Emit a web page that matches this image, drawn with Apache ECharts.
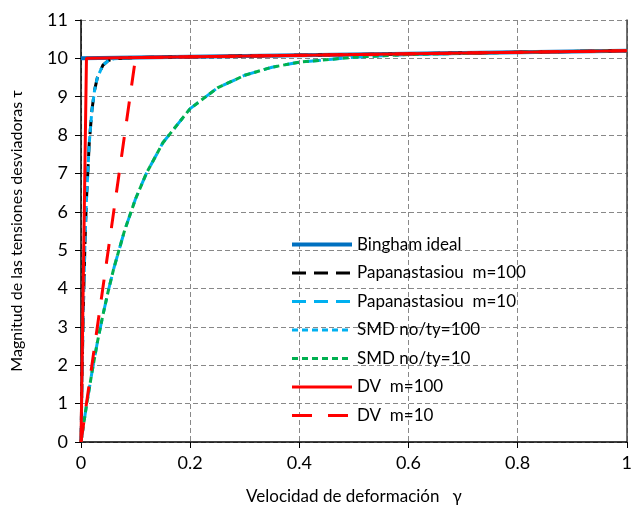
<!DOCTYPE html>
<html>
<head>
<meta charset="utf-8">
<script src="https://cdn.jsdelivr.net/npm/echarts@6/dist/echarts.min.js"></script>
<style>html,body{margin:0;padding:0;background:#fff}#c{width:635px;height:516px}</style>
</head>
<body>
<div id="c"></div>
<script>
// Data: [gamma, tau]
var seriesNames = ['Bingham ideal','Papanastasiou  m=100','Papanastasiou  m=10','SMD no/ty=100','SMD no/ty=10','DV  m=100','DV  m=10'];
var xTicks = [0, 0.2, 0.4, 0.6, 0.8, 1];
var yTicks = [0,1,2,3,4,5,6,7,8,9,10,11];

var bingham = [[0,10],[1,10.2]];
var papa100 = [[0,0],[0.002,1.81],[0.004,3.30],[0.006,4.51],[0.008,5.51],[0.01,6.32],[0.015,7.77],[0.02,8.65],[0.025,9.18],[0.03,9.50],[0.04,9.82],[0.05,9.94],[0.06,9.99],[0.08,10.01],[0.1,10.02],[0.2,10.04],[0.4,10.08],[0.6,10.12],[0.8,10.16],[1,10.2]];
var papa10 = [[0,0],[0.01,0.95],[0.02,1.81],[0.03,2.60],[0.04,3.30],[0.05,3.94],[0.06,4.52],[0.08,5.52],[0.1,6.34],[0.12,7.01],[0.15,7.80],[0.2,8.69],[0.25,9.23],[0.3,9.56],[0.35,9.77],[0.4,9.90],[0.5,10.03],[0.6,10.10],[0.7,10.13],[0.8,10.16],[0.9,10.18],[1,10.2]];
var smd100 = [[0,0],[0.002,1.81],[0.004,3.30],[0.006,4.51],[0.008,5.51],[0.01,6.32],[0.015,7.77],[0.02,8.65],[0.025,9.18],[0.03,9.50],[0.04,9.82],[0.05,9.94],[0.06,9.99],[0.08,10.01],[0.1,10.02],[0.2,10.04],[0.4,10.08],[0.6,10.12],[0.8,10.16],[1,10.2]];
var smd10 = [[0,0],[0.01,0.95],[0.02,1.81],[0.03,2.60],[0.04,3.30],[0.05,3.94],[0.06,4.52],[0.08,5.52],[0.1,6.34],[0.12,7.01],[0.15,7.80],[0.2,8.69],[0.25,9.23],[0.3,9.56],[0.35,9.77],[0.4,9.90],[0.5,10.03],[0.6,10.10],[0.7,10.13],[0.8,10.16],[0.9,10.18],[1,10.2]];
var dv100 = [[0,0],[0.01,10.0],[1,10.2]];
var dv10 = [[0,0],[0.1,10.02],[1,10.2]];

var FONT = 'Lato';
function mk(name, data, color, width, dash, z) {
  return {
    name: name, type: 'line', data: data, showSymbol: false, symbol: 'none',
    lineStyle: {color: color, width: width, type: dash, cap: 'butt'},
    itemStyle: {color: color}, z: z, silent: true, animation: false
  };
}
var chart = echarts.init(document.getElementById('c'), null, {renderer: 'canvas'});
chart.setOption({
  animation: false,
  textStyle: {fontFamily: FONT},
  grid: {left: 81, right: 4, top: 20, bottom: 74},
  legend: {
    orient: 'vertical', left: 285, top: 231,
    itemWidth: 60, itemHeight: 14, itemGap: 11.5,
    itemStyle: {opacity: 0},
    lineStyle: {width: 'inherit'},
    textStyle: {fontFamily: FONT, fontSize: 17, color: '#000'},
    data: seriesNames
  },
  xAxis: {
    type: 'value', min: 0, max: 1, interval: 0.2,
    name: 'Velocidad de deformación   γ', nameLocation: 'middle', nameGap: 46,
    nameTextStyle: {fontFamily: FONT, fontSize: 17, color: '#000'},
    axisLine: {show: true, lineStyle: {color: '#000', width: 1.5}},
    axisTick: {show: true, inside: false, length: 6, lineStyle: {color: '#000'}},
    axisLabel: {fontFamily: FONT, fontSize: 18, color: '#000', margin: 12,
      formatter: function(v){ return String(+v.toFixed(1)); }},
    splitLine: {show: true, lineStyle: {color: '#888', type: [5,3], width: 1}}
  },
  yAxis: [{
    type: 'value', min: 0, max: 11, interval: 1,
    name: 'Magnitud de las tensiones desviadoras τ', nameLocation: 'middle', nameGap: 56,
    nameTextStyle: {fontFamily: FONT, fontSize: 16, color: '#000'},
    axisLine: {show: true, lineStyle: {color: '#000', width: 1.5}},
    axisTick: {show: true, inside: false, length: 6, lineStyle: {color: '#000'}},
    axisLabel: {fontFamily: FONT, fontSize: 18, color: '#000', margin: 13},
    splitLine: {show: true, lineStyle: {color: '#888', type: [5,3], width: 1}}
  }, {
    type: 'value', min: 0, max: 11, interval: 1, position: 'right',
    axisLine: {show: true, lineStyle: {color: '#444', width: 1.5}},
    axisTick: {show: false}, axisLabel: {show: false}, splitLine: {show: false}
  }],
  series: [
    mk(seriesNames[0], bingham, '#0070C0', 4, 'solid', 2),
    mk(seriesNames[1], papa100, '#000000', 3, [14, 8], 3),
    mk(seriesNames[2], papa10, '#00B0F0', 3, [14, 8], 4),
    mk(seriesNames[3], smd100, '#00B0F0', 3, [6, 4], 5),
    mk(seriesNames[4], smd10, '#00B050', 3, [6, 4], 6),
    mk(seriesNames[5], dv100, '#FF0000', 3, 'solid', 7),
    mk(seriesNames[6], dv10, '#FF0000', 3, [20, 16], 8)
  ]
});
</script>
</body>
</html>
